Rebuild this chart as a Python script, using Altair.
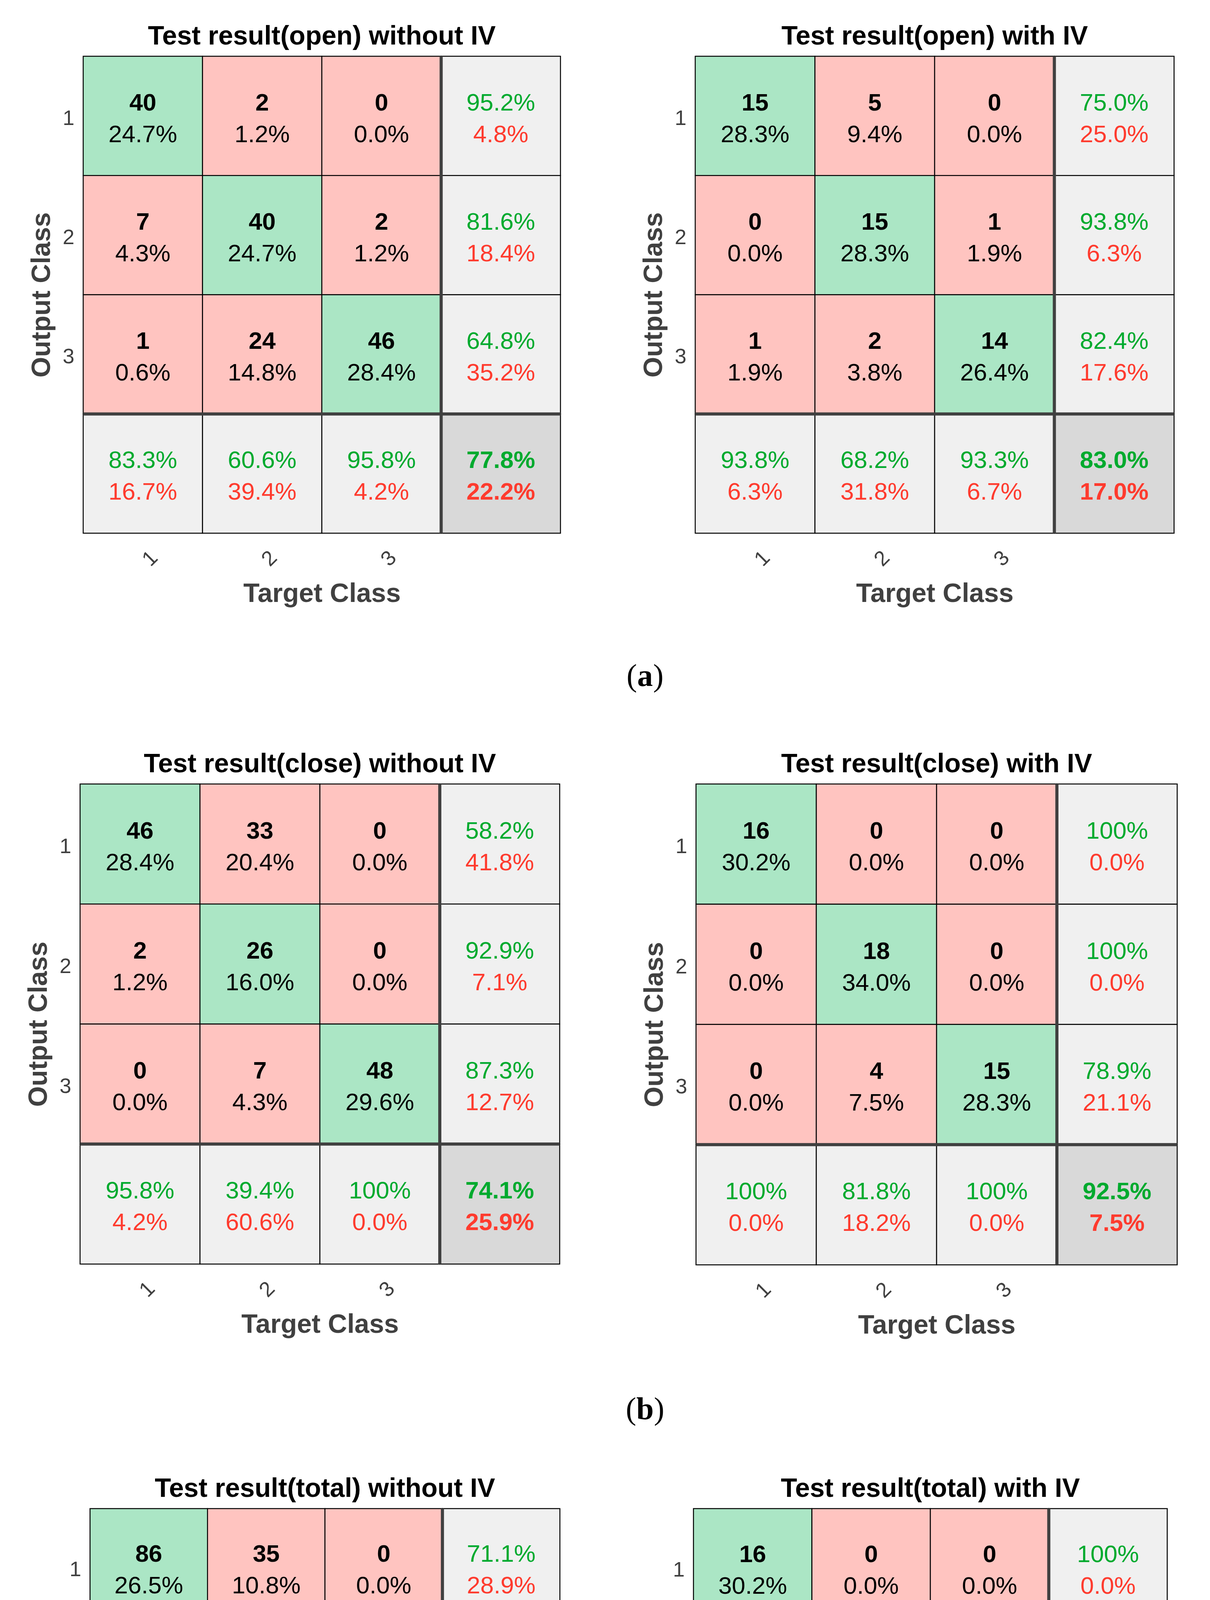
import altair as alt
import pandas as pd

# ---------------- data ----------------
cats = ["1", "2", "3", "all"]
tick_labels = ["1", "2", "3"]

a1_title = "Test result(open) without IV"
a1_counts = [[40, 2, 0], [7, 40, 2], [1, 24, 46]]
a1_pct = [[24.7, 1.2, 0.0], [4.3, 24.7, 1.2], [0.6, 14.8, 28.4]]
a1_row_ok = [95.2, 81.6, 64.8]
a1_row_err = [4.8, 18.4, 35.2]
a1_col_ok = [83.3, 60.6, 95.8]
a1_col_err = [16.7, 39.4, 4.2]
a1_total = [77.8, 22.2]

a2_title = "Test result(open) with IV"
a2_counts = [[15, 5, 0], [0, 15, 1], [1, 2, 14]]
a2_pct = [[28.3, 9.4, 0.0], [0.0, 28.3, 1.9], [1.9, 3.8, 26.4]]
a2_row_ok = [75.0, 93.8, 82.4]
a2_row_err = [25.0, 6.3, 17.6]
a2_col_ok = [93.8, 68.2, 93.3]
a2_col_err = [6.3, 31.8, 6.7]
a2_total = [83.0, 17.0]

b1_title = "Test result(close) without IV"
b1_counts = [[46, 33, 0], [2, 26, 0], [0, 7, 48]]
b1_pct = [[28.4, 20.4, 0.0], [1.2, 16.0, 0.0], [0.0, 4.3, 29.6]]
b1_row_ok = [58.2, 92.9, 87.3]
b1_row_err = [41.8, 7.1, 12.7]
b1_col_ok = [95.8, 39.4, 100]
b1_col_err = [4.2, 60.6, 0.0]
b1_total = [74.1, 25.9]

b2_title = "Test result(close) with IV"
b2_counts = [[16, 0, 0], [0, 18, 0], [0, 4, 15]]
b2_pct = [[30.2, 0.0, 0.0], [0.0, 34.0, 0.0], [0.0, 7.5, 28.3]]
b2_row_ok = [100, 100, 78.9]
b2_row_err = [0.0, 0.0, 21.1]
b2_col_ok = [100, 81.8, 100]
b2_col_err = [0.0, 18.2, 0.0]
b2_total = [92.5, 7.5]

c1_title = "Test result(total) without IV"
c1_counts = [[86, 35, 0], [9, 66, 2], [1, 31, 94]]
c1_pct = [[26.5, 10.8, 0.0], [2.8, 20.4, 0.6], [0.3, 9.6, 29.0]]
c1_row_ok = [71.1, 85.7, 74.6]
c1_row_err = [28.9, 14.3, 25.4]
c1_col_ok = [89.6, 50.0, 97.9]
c1_col_err = [10.4, 50.0, 2.1]
c1_total = [75.9, 24.1]

c2_title = "Test result(total) with IV"
c2_counts = [[16, 0, 0], [0, 22, 1], [0, 0, 14]]
c2_pct = [[30.2, 0.0, 0.0], [0.0, 41.5, 1.9], [0.0, 0.0, 26.4]]
c2_row_ok = [100, 95.7, 100]
c2_row_err = [0.0, 4.3, 0.0]
c2_col_ok = [100, 100, 93.3]
c2_col_err = [0.0, 0.0, 6.7]
c2_total = [98.1, 1.9]

caption_letters = ["a", "b", "c"]

# ---------------- styles ----------------
FONT = "Liberation Sans, Arial, Helvetica, sans-serif"
SERIF = "Liberation Serif, Times New Roman, serif"
AXC = "#404040"
GREEN_CELL = "#ABE6C5"
RED_CELL = "#FFC4C0"
GRAY_CELL = "#F0F0F0"
DARK_CELL = "#D9D9D9"
GREEN_TXT = "#00AA2E"
RED_TXT = "#FF3B2E"


def fmt(v):
    return "100%" if v == 100 else f"{v:.1f}%"


def panel_df(counts, pct, row_ok, row_err, col_ok, col_err, total):
    recs = []
    for i in range(3):
        for j in range(3):
            recs.append(dict(row=cats[i], col=cats[j],
                             fill=GREEN_CELL if i == j else RED_CELL,
                             t1=str(counts[i][j]), c1="black", b1=True,
                             t2=fmt(pct[i][j]), c2="black", b2=False))
        recs.append(dict(row=cats[i], col="all", fill=GRAY_CELL,
                         t1=fmt(row_ok[i]), c1=GREEN_TXT, b1=False,
                         t2=fmt(row_err[i]), c2=RED_TXT, b2=False))
    for j in range(3):
        recs.append(dict(row="all", col=cats[j], fill=GRAY_CELL,
                         t1=fmt(col_ok[j]), c1=GREEN_TXT, b1=False,
                         t2=fmt(col_err[j]), c2=RED_TXT, b2=False))
    recs.append(dict(row="all", col="all", fill=DARK_CELL,
                     t1=fmt(total[0]), c1=GREEN_TXT, b1=True,
                     t2=fmt(total[1]), c2=RED_TXT, b2=True))
    return pd.DataFrame(recs)


def panel(title, df, W, H):
    xs = alt.Scale(type="band", domain=cats, paddingInner=0, paddingOuter=0)
    ys = alt.Scale(type="band", domain=cats, paddingInner=0, paddingOuter=0)
    xaxis = alt.Axis(values=tick_labels, labelAngle=-45, labelAlign="center",
                     labelBaseline="top", labelPadding=46, labelFontSize=54,
                     labelFont=FONT, labelColor=AXC, ticks=False, tickSize=0,
                     domain=False, grid=False, title="Target Class",
                     titleFontSize=68, titleFont=FONT, titleFontWeight="bold",
                     titleColor=AXC, titleX=W / 2, titleY=155,
                     titleBaseline="middle", titleAlign="center")
    yaxis = alt.Axis(values=tick_labels, labelAngle=0, labelAlign="right",
                     labelBaseline="middle", labelPadding=23, labelOffset=7,
                     labelFontSize=54, labelFont=FONT, labelColor=AXC,
                     ticks=False, tickSize=0, domain=False, grid=False,
                     title="Output Class", titleFontSize=68, titleFont=FONT,
                     titleFontWeight="bold", titleColor=AXC, titleAngle=270,
                     titleX=-106, titleY=H / 2, titleBaseline="middle",
                     titleAlign="center")
    X = alt.X("col:O", scale=xs, axis=xaxis)
    Y = alt.Y("row:O", scale=ys, axis=yaxis)

    rects = alt.Chart(df).mark_rect(stroke="black", strokeWidth=2.5).encode(
        x=X, y=Y, color=alt.Color("fill:N", scale=None))

    tot = df[(df["row"] == "all") & (df["col"] == "all")]
    vsep = alt.Chart(tot).mark_rule(color=AXC, strokeWidth=8).encode(
        x=alt.X("col:O", scale=xs, axis=xaxis, bandPosition=0))
    hsep = alt.Chart(tot).mark_rule(color=AXC, strokeWidth=8).encode(
        y=alt.Y("row:O", scale=ys, axis=yaxis, bandPosition=0))

    def txt(d, field, colf, bold, dy):
        return alt.Chart(d).mark_text(
            font=FONT, fontSize=62, fontWeight="bold" if bold else "normal",
            align="center", baseline="middle", dy=dy
        ).encode(x=X, y=Y, text=alt.Text(f"{field}:N"),
                 color=alt.Color(f"{colf}:N", scale=None))

    t1b = txt(df[df["b1"]], "t1", "c1", True, -33)
    t1n = txt(df[~df["b1"]], "t1", "c1", False, -33)
    t2b = txt(df[df["b2"]], "t2", "c2", True, 48)
    t2n = txt(df[~df["b2"]], "t2", "c2", False, 48)

    return alt.layer(rects, vsep, hsep, t1b, t1n, t2b, t2n).properties(
        width=W, height=H,
        title=alt.TitleParams(text=title, fontSize=68, fontWeight="bold",
                              font=FONT, color="black", anchor="middle",
                              frame="group", baseline="alphabetic", offset=-42))


def caption(letter, H, dy, half):
    def part(t, bold, dx):
        return alt.Chart(pd.DataFrame({"label": [t]})).mark_text(
            font=SERIF, fontSize=80, fontWeight="bold" if bold else "normal",
            color="black", align="center", baseline="alphabetic", dx=dx, dy=dy
        ).encode(text="label:N")
    return alt.layer(
        part("(", False, 40 - half),
        part(letter, True, 40),
        part(")", False, 40 + half),
    ).properties(width=300, height=H)


pa1 = panel(a1_title, panel_df(a1_counts, a1_pct, a1_row_ok, a1_row_err, a1_col_ok, a1_col_err, a1_total), 1222, 1221)
pa2 = panel(a2_title, panel_df(a2_counts, a2_pct, a2_row_ok, a2_row_err, a2_col_ok, a2_col_err, a2_total), 1226, 1221)
pb1 = panel(b1_title, panel_df(b1_counts, b1_pct, b1_row_ok, b1_row_err, b1_col_ok, b1_col_err, b1_total), 1228, 1229)
pb2 = panel(b2_title, panel_df(b2_counts, b2_pct, b2_row_ok, b2_row_err, b2_col_ok, b2_col_err, b2_total), 1232, 1231)
pc1 = panel(c1_title, panel_df(c1_counts, c1_pct, c1_row_ok, c1_row_err, c1_col_ok, c1_col_err, c1_total), 1203, 1201)
pc2 = panel(c2_title, panel_df(c2_counts, c2_pct, c2_row_ok, c2_row_err, c2_col_ok, c2_col_err, c2_total), 1213, 1211)

row_a = alt.hconcat(pa1, pa2, spacing=201)
row_b = alt.hconcat(pb1, pb2, spacing=205)
row_c = alt.hconcat(pc1, pc2, spacing=198)

chart = alt.vconcat(
    row_a, caption(caption_letters[0], 369, 17, 34),
    row_b, caption(caption_letters[1], 351, 30, 36),
    row_c, caption(caption_letters[2], 215, 88, 31),
    spacing=0, center=True
).properties(
    padding={"left": 57, "top": 52, "right": 5, "bottom": 5},
    background="white"
).configure_view(stroke=None)

chart.save("out.html", embed_options={"renderer": "svg", "actions": False})
